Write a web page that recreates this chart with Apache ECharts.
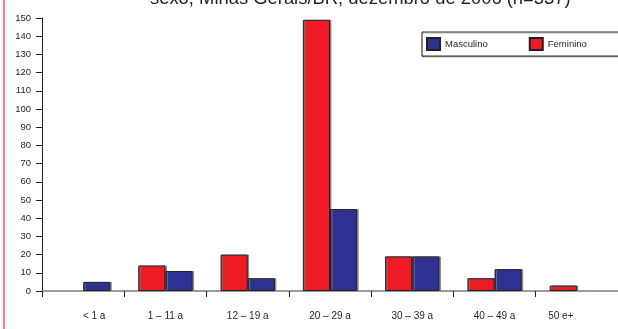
<!DOCTYPE html>
<html>
<head>
<meta charset="utf-8">
<script src="https://cdn.jsdelivr.net/npm/echarts@6/dist/echarts.min.js"></script>
<style>
  html, body { margin: 0; padding: 0; background: #fff; }
  #chart { width: 618px; height: 329px; }
</style>
</head>
<body>
<div id="chart"></div>
<script>
// faixas etarias
var faixas = ['< 1 a', '1 – 11 a', '12 – 19 a', '20 – 29 a', '30 – 39 a', '40 – 49 a', '50 e+'];
var feminino = [0, 14, 20, 149, 19, 7, 3];
var masculino = [5, 11, 7, 45, 19, 12, 0];
var yTicks = [0, 10, 20, 30, 40, 50, 60, 70, 80, 90, 100, 110, 120, 130, 140, 150];

// some labels in the original sit a bit off centre
var labelShift = { 0: 22, 6: -32 };

var chart = echarts.init(document.getElementById('chart'), null, { renderer: 'canvas' });

var catData = faixas.map(function (f, i) {
  var s = labelShift[i] || 0;
  if (!s) return f;
  return { value: f, textStyle: { padding: s > 0 ? [0, 0, 0, s] : [0, -s, 0, 0] } };
});

// zero = no bar at all
var noZero = function (arr) {
  return arr.map(function (v) { return v === 0 ? '-' : v; });
};

var barStyle = function (c) {
  return {
    color: c,
    borderColor: '#231f20',
    borderWidth: 1,
    shadowColor: 'rgba(120,120,120,0.8)',
    shadowBlur: 0,
    shadowOffsetX: 1.5,
    shadowOffsetY: 0
  };
};

var option = {
  animation: false,
  backgroundColor: '#fff',
  textStyle: { fontFamily: 'Liberation Sans, Arial, sans-serif' },
  title: {
    text: 'sexo, Minas Gerais/BR, dezembro de 2006 (n=337)',
    left: 150,
    top: -10,
    padding: 0,
    textStyle: { fontSize: 18.4, fontWeight: 'normal', color: '#231f20', fontFamily: 'Liberation Sans, Arial, sans-serif' }
  },
  legend: {
    data: ['Masculino', 'Feminino'],
    orient: 'horizontal',
    left: 422,
    top: 32,
    width: 400,
    padding: [5, 80, 5, 4],
    itemWidth: 13,
    itemHeight: 12,
    itemGap: 41,
    icon: 'rect',
    backgroundColor: '#fff',
    borderColor: '#333',
    borderWidth: 1,
    shadowColor: 'rgba(0,0,0,0.3)',
    shadowOffsetY: 1,
    textStyle: { fontSize: 9.5, color: '#231f20' }
  },
  grid: { left: 42, right: -1, top: 18, bottom: 38, containLabel: false },
  xAxis: {
    type: 'category',
    data: catData,
    axisLine: { lineStyle: { color: '#7a7a7a', width: 1.5 } },
    axisTick: { show: true, length: 6, lineStyle: { color: '#231f20', width: 1 } },
    axisLabel: { fontSize: 10, color: '#231f20', margin: 20 },
    splitLine: { show: false }
  },
  yAxis: {
    type: 'value',
    min: yTicks[0],
    max: yTicks[yTicks.length - 1],
    interval: yTicks[1] - yTicks[0],
    axisLine: { show: true, lineStyle: { color: '#231f20', width: 1 } },
    axisTick: { show: true, length: 6, lineStyle: { color: '#231f20', width: 1 } },
    axisLabel: { fontSize: 9.5, color: '#231f20', margin: 11 },
    splitLine: { show: false }
  },
  series: [
    {
      name: 'Feminino',
      type: 'bar',
      data: noZero(feminino),
      barGap: '0%',
      barCategoryGap: '34%',
      itemStyle: barStyle('#ed1c24')
    },
    {
      name: 'Masculino',
      type: 'bar',
      data: noZero(masculino),
      barGap: '0%',
      barCategoryGap: '34%',
      itemStyle: barStyle('#2e3192')
    }
  ],
  graphic: [
    {
      type: 'line',
      shape: { x1: 4, y1: 0, x2: 4, y2: 329 },
      style: { stroke: '#ef5a63', lineWidth: 1.5 }
    }
  ]
};

chart.setOption(option);
window.addEventListener('resize', chart.resize);
</script>
</body>
</html>
